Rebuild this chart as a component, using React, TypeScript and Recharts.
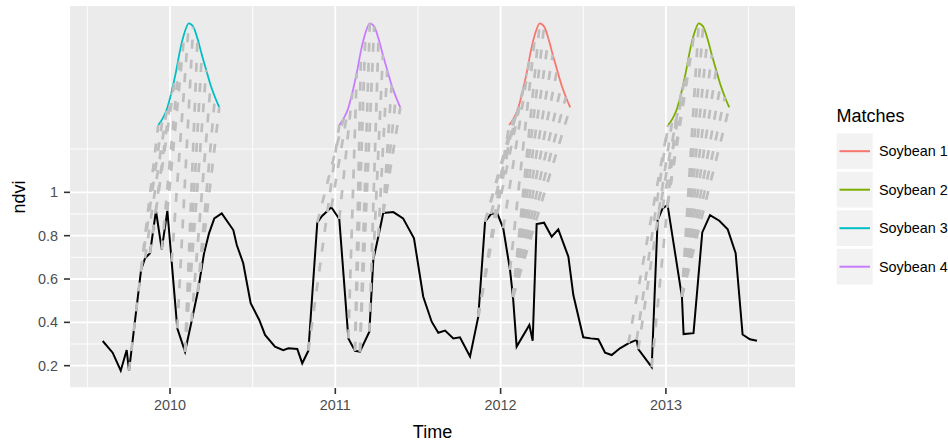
import React from 'react';
import { ComposedChart, Line, XAxis, YAxis, CartesianGrid, Legend } from 'recharts';

// Observed NDVI time series (decimal year, value)
const seriesTime = [
  2009.593, 2009.653, 2009.702, 2009.738, 2009.752, 2009.825, 2009.849, 2009.879, 2009.915, 2009.95,
  2009.984, 2010.01, 2010.044, 2010.091, 2010.13, 2010.168, 2010.206, 2010.236, 2010.268, 2010.313,
  2010.383, 2010.404, 2010.443, 2010.488, 2010.54, 2010.575, 2010.635, 2010.685, 2010.716, 2010.77,
  2010.8, 2010.837, 2010.891, 2010.92, 2010.976, 2011.024, 2011.079, 2011.119, 2011.149, 2011.206,
  2011.23, 2011.26, 2011.29, 2011.351, 2011.41, 2011.476, 2011.532, 2011.583, 2011.623, 2011.664,
  2011.714, 2011.754, 2011.815, 2011.865, 2011.906, 2011.942, 2011.98, 2012.016, 2012.057, 2012.075,
  2012.097, 2012.174, 2012.194, 2012.218, 2012.263, 2012.309, 2012.349, 2012.41, 2012.44, 2012.5,
  2012.545, 2012.591, 2012.632, 2012.672, 2012.722, 2012.773, 2012.823, 2012.833, 2012.914, 2012.95,
  2012.98, 2013.01, 2013.097, 2013.107, 2013.167, 2013.22, 2013.267, 2013.323, 2013.374, 2013.422,
  2013.464, 2013.508, 2013.551,
];
const seriesNdvi = [
  0.314, 0.26, 0.177, 0.272, 0.176, 0.642, 0.696, 0.719, 0.915, 0.737,
  0.915, 0.68, 0.373, 0.265, 0.403, 0.541, 0.719, 0.811, 0.88, 0.903,
  0.826, 0.757, 0.673, 0.488, 0.411, 0.342, 0.288, 0.272, 0.28, 0.277,
  0.211, 0.269, 0.86, 0.891, 0.931, 0.877, 0.326, 0.269, 0.265, 0.357,
  0.689, 0.795, 0.905, 0.909, 0.88, 0.788, 0.518, 0.403, 0.352, 0.362,
  0.326, 0.331, 0.242, 0.426, 0.865, 0.9, 0.903, 0.834, 0.642, 0.517,
  0.288, 0.388, 0.315, 0.854, 0.86, 0.795, 0.829, 0.703, 0.526, 0.331,
  0.326, 0.322, 0.26, 0.249, 0.28, 0.303, 0.319, 0.276, 0.193, 0.872,
  0.926, 0.942, 0.518, 0.346, 0.35, 0.815, 0.895, 0.869, 0.829, 0.719,
  0.344, 0.322, 0.315,
];

// Soybean pattern (shifted upward in the plot), days from start, plotted value
const patternDays = [0, 9.6, 19.2, 28.9, 38.5, 48.1, 57.7, 67.4, 77, 86.6, 96.2, 105.8, 115.5, 125.1, 134.7];
const patternNdvi = [1.311, 1.34, 1.385, 1.46, 1.55, 1.655, 1.735, 1.78, 1.765, 1.71, 1.635, 1.565, 1.495, 1.44, 1.392];

const matchNames = ['Soybean 1', 'Soybean 2', 'Soybean 3', 'Soybean 4'];
const matchColors = ['#F8766D', '#7CAE00', '#00BFC4', '#C77CFF'];
const matchStart = [2012.052, 2013.014, 2009.929, 2011.024];

// alignment links: [pattern index, series index]
const linksSoybean1 = [[0, 53], [1, 53], [1, 54], [2, 54], [3, 55], [4, 56], [5, 57], [6, 58], [7, 59], [8, 59], [9, 59], [10, 59], [11, 59], [12, 59], [13, 59], [14, 59]];
const linksSoybean2 = [[0, 75], [0, 76], [1, 77], [2, 78], [3, 79], [4, 80], [5, 81], [6, 81], [7, 82], [8, 82], [9, 82], [10, 82], [11, 82], [12, 82], [13, 82], [14, 82]];
const linksSoybean3 = [[0, 4], [1, 5], [2, 6], [3, 7], [4, 8], [5, 9], [6, 10], [7, 11], [8, 12], [9, 13], [10, 13], [11, 13], [12, 14], [13, 15], [14, 15]];
const linksSoybean4 = [[0, 31], [1, 32], [2, 34], [3, 35], [4, 36], [5, 37], [6, 37], [7, 38], [8, 38], [9, 39], [10, 40], [11, 41], [12, 42], [13, 42], [14, 42]];
const matchLinks = [linksSoybean1, linksSoybean2, linksSoybean3, linksSoybean4];

const xTicks = [2010, 2011, 2012, 2013];
const yTicks = [0.2, 0.4, 0.6, 0.8, 1];
const xMajorGrid = [2010, 2011, 2012, 2013];
const xMinorGrid = [2009.5, 2010.5, 2011.5, 2012.5, 2013.5];
const yMajorGrid = [0.2, 0.4, 0.6, 0.8, 1.0];
const yMinorGrid = [0.1, 0.3, 0.5, 0.7, 0.9, 1.1, 1.2];

const FONT = '"Liberation Sans", Arial, Helvetica, sans-serif';

const seriesData = seriesTime.map((t, i) => ({ t, v: seriesNdvi[i] }));
const patternData = matchStart.map((s) => patternDays.map((d, i) => ({ t: s + d / 365, v: patternNdvi[i] })));
const linkData = matchLinks.map((links, m) =>
  links.map(([pi, si]) => [
    { t: seriesTime[si], v: seriesNdvi[si] },
    { t: matchStart[m] + patternDays[pi] / 365, v: patternNdvi[pi] },
  ])
);

const renderLegend = () => (
  <svg width={118} height={200} style={{ overflow: 'visible', display: 'block' }}>
    <text x={6.5} y={25.7} fontSize={18} fontFamily={FONT} fill="#000">Matches</text>
    {matchNames.map((name, k) => (
      <g key={name}>
        <rect x={6.7} y={37.3 + 38.5 * k} width={36} height={35.7} fill="#F2F2F2" />
        <line x1={9.5} x2={40} y1={55.2 + 38.5 * k} y2={55.2 + 38.5 * k} stroke={matchColors[k]} strokeWidth={2} />
        <text x={49} y={60.4 + 38.5 * k} fontSize={14.4} fontFamily={FONT} fill="#000">{name}</text>
      </g>
    ))}
  </svg>
);

const XTitle = (props: any) => {
  const vb = props.viewBox || {};
  return (
    <text x={vb.x + vb.width / 2} y={438} textAnchor="middle" fontSize={18} fontFamily={FONT} fill="#000">Time</text>
  );
};

const YTitle = (props: any) => {
  const vb = props.viewBox || {};
  const cy = vb.y + vb.height / 2;
  return (
    <text x={25.3} y={cy} transform={`rotate(-90, 25.3, ${cy})`} textAnchor="middle" fontSize={18} fontFamily={FONT} fill="#000">ndvi</text>
  );
};

export default function App() {
  return (
    <div style={{ position: 'absolute', left: 0, top: 0, width: 948, height: 441, background: '#fff' }}>
      <ComposedChart width={948} height={441} margin={{ top: 6, right: 153, bottom: 0, left: 0 }}>
        <CartesianGrid horizontalValues={yMinorGrid} verticalValues={xMinorGrid} stroke="#FFFFFF" strokeWidth={0.9} fill="#EBEBEB" fillOpacity={1} />
        <CartesianGrid horizontalValues={yMajorGrid} verticalValues={xMajorGrid} stroke="#FFFFFF" strokeWidth={1.8} />
        <XAxis
          type="number"
          dataKey="t"
          domain={[2009.395, 2013.781]}
          allowDataOverflow
          ticks={xTicks}
          tickFormatter={(v: number) => String(v)}
          height={53}
          tickSize={6}
          tickMargin={6}
          axisLine={false}
          tickLine={{ stroke: '#333333', strokeWidth: 1.6 }}
          tick={{ fill: '#4D4D4D', fontSize: 14.4, fontFamily: FONT }}
          label={<XTitle />}
        />
        <YAxis
          type="number"
          dataKey="v"
          domain={[0.097, 1.86]}
          allowDataOverflow
          ticks={yTicks}
          tickFormatter={(v: number) => (v === 1 ? '1' : v.toFixed(1))}
          width={70}
          tickSize={6}
          tickMargin={6}
          axisLine={false}
          tickLine={{ stroke: '#333333', strokeWidth: 1.6 }}
          tick={{ fill: '#4D4D4D', fontSize: 14.4, fontFamily: FONT }}
          label={<YTitle />}
        />
        <Line
          data={seriesData}
          dataKey="v"
          type="linear"
          stroke="#000000"
          strokeWidth={2}
          dot={false}
          activeDot={false}
          isAnimationActive={false}
          legendType="none"
        />
        {patternData.map((d, m) => (
          <Line
            key={`pat-${m}`}
            data={d}
            dataKey="v"
            type="monotone"
            stroke={matchColors[m]}
            strokeWidth={1.8}
            dot={false}
            activeDot={false}
            isAnimationActive={false}
            legendType="none"
          />
        ))}
        {linkData.map((links, m) =>
          links.map((seg, j) => (
            <Line
              key={`lnk-${m}-${j}`}
              data={seg}
              dataKey="v"
              type="linear"
              stroke="#BEBEBE"
              strokeWidth={2.7}
              strokeDasharray="9 11"
              dot={false}
              activeDot={false}
              isAnimationActive={false}
              legendType="none"
            />
          ))
        )}
        <Legend
          layout="horizontal"
          verticalAlign="middle"
          align="center"
          content={renderLegend}
          wrapperStyle={{ position: 'absolute', left: 830, top: 96, width: 118, height: 200 }}
        />
      </ComposedChart>
    </div>
  );
}
